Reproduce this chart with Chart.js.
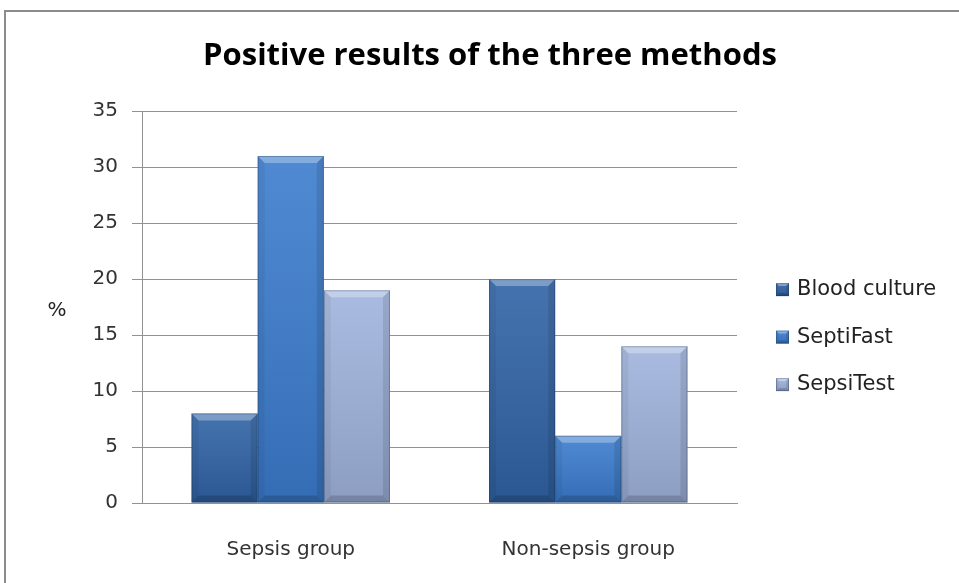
<!DOCTYPE html>
<html>
<head>
<meta charset="utf-8">
<script src="https://cdn.jsdelivr.net/npm/chart.js@4/dist/chart.umd.min.js"></script>
<style>
  html, body { margin: 0; padding: 0; background: #fff; overflow: hidden; }
  #wrap { position: relative; width: 959px; height: 583px; }
  #frame { position: absolute; left: 4px; top: 10px; width: 2000px; height: 2000px;
           border-top: 2px solid #8c8c8c; border-left: 2px solid #8c8c8c; pointer-events: none; }
</style>
</head>
<body>
<div id="wrap">
  <canvas id="c" width="959" height="583"></canvas>
  <div id="frame"></div>
</div>
<script>
// Groups and the share of positive results (%) per detection method
const categories = ['Sepsis group', 'Non-sepsis group'];
const seriesNames = ['Blood culture', 'SeptiFast', 'SepsiTest'];
const bloodCulture = [8, 20];
const septiFast = [31, 6];
const sepsiTest = [19, 14];
const yMin = 0, yMax = 35, yStep = 5;

const seriesColors = ['#3063A5', '#3B7CCD', '#9FB3DC'];
const gridColor = '#929292';
const textFont = '"DejaVu Sans", sans-serif';
const titleFont = '"Open Sans", sans-serif';

// Horizontal "%" axis label to the left of the value ticks
const yLabelPlugin = {
  id: 'yLabel',
  afterDraw(chart) {
    const { ctx, chartArea } = chart;
    ctx.save();
    ctx.font = '20px ' + textFont;
    ctx.fillStyle = '#222';
    ctx.textAlign = 'center';
    ctx.textBaseline = 'middle';
    ctx.fillText('%', 57, (chartArea.top + chartArea.bottom) / 2 + 4);
    ctx.restore();
  }
};

// Small bevelled swatch, shared by the bars and the legend keys
function bevel(ctx, L, T, R, B, b, topAlpha) {
  const g = ctx.createLinearGradient(0, T, 0, B);
  g.addColorStop(0, 'rgba(255,255,255,0.10)');
  g.addColorStop(1, 'rgba(0,0,0,0.12)');
  ctx.fillStyle = g;
  ctx.fillRect(L, T, R - L, B - T);
  const poly = (pts, fill) => {
    ctx.beginPath();
    ctx.moveTo(pts[0][0], pts[0][1]);
    for (let i = 1; i < pts.length; i++) ctx.lineTo(pts[i][0], pts[i][1]);
    ctx.closePath();
    ctx.fillStyle = fill;
    ctx.fill();
  };
  poly([[L, T], [R, T], [R - b, T + b], [L + b, T + b]], 'rgba(255,255,255,' + topAlpha + ')');
  poly([[L, T], [L + b, T + b], [L + b, B - b], [L, B]], 'rgba(0,0,0,0.05)');
  poly([[R, T], [R - b, T + b], [R - b, B - b], [R, B]], 'rgba(0,0,0,0.10)');
  poly([[L, B], [L + b, B - b], [R - b, B - b], [R, B]], 'rgba(0,0,0,0.16)');
  ctx.strokeStyle = 'rgba(20,40,70,0.30)';
  ctx.lineWidth = 1;
  ctx.strokeRect(L + 0.5, T + 0.5, R - L - 1, B - T - 1);
}

// Bevelled look on each bar, using the bar geometry computed by the chart
const bevelPlugin = {
  id: 'bevel',
  afterDatasetsDraw(chart) {
    const ctx = chart.ctx;
    chart.data.datasets.forEach((ds, di) => {
      chart.getDatasetMeta(di).data.forEach(bar => {
        const p = bar.getProps(['x', 'y', 'base', 'width'], true);
        const L = p.x - p.width / 2, R = p.x + p.width / 2;
        const T = Math.min(p.y, p.base), B = Math.max(p.y, p.base);
        ctx.save();
        bevel(ctx, L, T, R, B, Math.min(7, (B - T) / 2), 0.30);
        ctx.restore();
      });
    });
  }
};

// Legend column on the right, placed as its own layout box
const sideLegend = {
  id: 'sideLegend',
  beforeInit(chart) {
    const box = {
      position: 'right', weight: 0, fullSize: true, options: {},
      left: 0, top: 0, right: 0, bottom: 0, width: 0, height: 0,
      isHorizontal() { return false; },
      update(maxWidth, maxHeight) { this.width = 222; this.height = maxHeight; },
      getPadding() { return { left: 0, right: 0, top: 0, bottom: 0 }; },
      draw() {
        const ctx = chart.ctx;
        const ca = chart.chartArea;
        const mid = (ca.top + ca.bottom) / 2 + 30;
        const step = 47.5;
        ctx.save();
        ctx.font = '21px ' + textFont;
        ctx.textBaseline = 'middle';
        ctx.textAlign = 'left';
        seriesNames.forEach((name, i) => {
          const cy = mid + (i - 1) * step;
          const x0 = this.left + 39;
          ctx.fillStyle = seriesColors[i];
          ctx.fillRect(x0, cy - 6.5, 13, 13);
          bevel(ctx, x0, cy - 6.5, x0 + 13, cy + 6.5, 3, 0.35);
          ctx.fillStyle = '#222';
          ctx.fillText(name, x0 + 21, cy);
        });
        ctx.restore();
      }
    };
    Chart.layouts.addBox(chart, box);
  }
};

const values = [bloodCulture, septiFast, sepsiTest];

new Chart(document.getElementById('c'), {
  type: 'bar',
  data: {
    labels: categories,
    datasets: seriesNames.map((name, i) => ({
      label: name,
      data: values[i],
      backgroundColor: seriesColors[i],
      borderWidth: 0,
      barPercentage: 1.0,
      categoryPercentage: 0.667
    }))
  },
  options: {
    responsive: false,
    animation: false,
    devicePixelRatio: 1,
    layout: { padding: { left: 21, right: 0, top: 0, bottom: 0 } },
    plugins: {
      title: {
        display: true,
        text: 'Positive results of the three methods',
        font: { family: titleFont, size: 31, weight: 'bold', lineHeight: 1.2 },
        color: '#000',
        padding: { top: 38, bottom: 36 }
      },
      legend: { display: false },
      tooltip: { enabled: false }
    },
    scales: {
      x: {
        grid: { display: false, drawTicks: false },
        border: { display: true, color: gridColor },
        ticks: { font: { family: textFont, size: 20 }, color: '#333', padding: 35 },
        afterFit(scale) { scale.height = 80; }
      },
      y: {
        min: yMin, max: yMax,
        ticks: { stepSize: yStep, font: { family: textFont, size: 20 }, color: '#333', padding: 14 },
        grid: { color: gridColor, tickLength: 10, drawTicks: true },
        border: { display: true, color: gridColor },
        afterFit(scale) { scale.width = 121; }
      }
    }
  },
  plugins: [yLabelPlugin, bevelPlugin, sideLegend]
});
</script>
</body>
</html>
